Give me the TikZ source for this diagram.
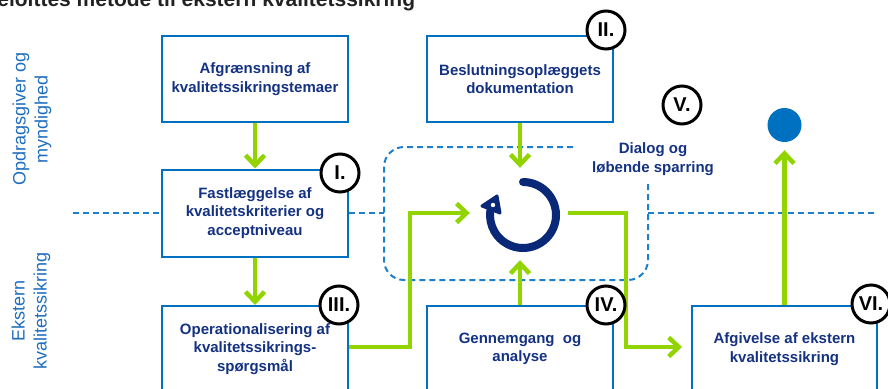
\documentclass[tikz,border=0pt]{standalone}
\usepackage{fontspec}
\setmainfont{Liberation Sans}
\usetikzlibrary{arrows.meta,calc}
\definecolor{boxblue}{RGB}{0,112,192}
\definecolor{navy}{RGB}{20,50,130}
\definecolor{cycnavy}{RGB}{10,40,120}
\definecolor{lgreen}{RGB}{146,212,0}
\definecolor{dashblue}{RGB}{30,128,204}
\definecolor{sideblue}{RGB}{30,110,190}
\definecolor{titlegray}{RGB}{34,34,34}
\tikzset{
  procbox/.style={draw=boxblue, line width=2pt, fill=white, minimum width=186pt, minimum height=86pt,
    align=center, text=navy, font=\fontsize{15}{18.5}\selectfont\bfseries, inner sep=0pt},
  numcirc/.style={circle, draw=black, line width=3pt, fill=white, minimum size=38pt, inner sep=0pt,
    font=\fontsize{20}{20}\selectfont\bfseries},
  garrow/.style={draw=lgreen, line width=4.5pt, -{Straight Barb[length=10pt,width=19pt]}},
  dashl/.style={draw=dashblue, line width=2pt, dash pattern=on 6pt off 4pt},
  sidelabel/.style={rotate=90, align=center, text=sideblue, font=\fontsize{18}{22}\selectfont}
}
\begin{document}
\begin{tikzpicture}[x=1pt,y=-1pt]
\useasboundingbox (0,0) rectangle (888,388);
\clip (0,0) rectangle (888,388);

% title (cut off at the top edge, as in the reference)
\node[anchor=base west, font=\fontsize{21}{21}\selectfont\bfseries, text=titlegray, inner sep=0pt] (title) at (-18,6) {Deloittes metode til ekstern kvalitetssikring};

% side labels
\node[sidelabel] (top) at (32,119) {Opdragsgiver og\\myndighed};
\node[sidelabel] (bot) at (31,311) {Ekstern\\kvalitetssikring};

% coordinates
\coordinate (dl) at (73,213);
\coordinate (rl) at (877,213);
\coordinate (rectl) at (384,213);
\coordinate (rectr) at (648,213);
\coordinate (j1) at (410,213);
\coordinate (j2) at (626,347);

% dashed dialog region
\draw[dashl, rounded corners=20pt] (573,147) -- (384,147) -- (384,280) -- (648,280) -- (648,183);

% boxes
\node[procbox] (afg) at (255,79) {Afgrænsning af\\kvalitetssikringstemaer};
\node[procbox, minimum height=87pt] (fast) at (255,213) {Fastlæggelse af\\kvalitetskriterier og\\acceptniveau};
\node[procbox] (besl) at (520,79) {Beslutningsoplæggets\\dokumentation};
\node[procbox] (oper) at (255,349) {Operationalisering af\\kvalitetssikrings-\\spørgsmål};
\node[procbox] (genn) at (520,349) {Gennemgang\ \ og\\analyse};
\node[procbox, minimum width=185pt] (afgiv) at (784.5,349) {Afgivelse af ekstern\\kvalitetssikring};

% separator line
\draw[dashl] (dl) -- (fast.west);
\draw[dashl] (fast.east) -- (rectl);
\draw[dashl] (rectr) -- (rl);

% cycle anchor and dot
\node[circle, minimum size=74pt, inner sep=0pt] (cyc) at (523,215) {};
\node[circle, fill=boxblue, minimum size=34pt, inner sep=0pt] (dot) at (784.5,125) {};

% dialog text
\node[align=center, text=navy, font=\fontsize{15}{18.5}\selectfont\bfseries] (dial) at (653,159) {Dialog og\\løbende sparring};

% green arrows
\draw[garrow] (afg.south) -- (fast.north);
\draw[garrow] (fast.south) -- (oper.north);
\draw[garrow, shorten >=10pt] (besl.south) -- (besl.south |- cyc.north);
\draw[garrow, shorten >=16pt] ([yshift=2pt]oper.east) -| (j1) -- (cyc.west |- j1);
\draw[garrow, shorten >=8pt] (genn.north) -- (genn.north |- cyc.south);
\draw[garrow, shorten >=9pt] ($(cyc.east |- j1)+(8,0)$) -| (j2) -- ([yshift=2pt]afgiv.west);
\draw[garrow, shorten >=8pt] (afgiv.north) -- (dot.south);

% cycle arrow
\draw[cycnavy, line width=8pt, line cap=round] ($(cyc.center)+(270:33)$) arc[start angle=270, end angle=548, radius=33];
\draw[cycnavy, fill=cycnavy, line width=3pt, line join=round] (482,206) -- (497,196) -- (500,213) -- cycle;
\fill[white] (493,205) circle[radius=2.2];

% numbered circles
\node[numcirc] (n1) at (340,173) {I.};
\node[numcirc] (n2) at (606,30) {II.};
\node[numcirc] (n3) at (339,305) {III.};
\node[numcirc] (n4) at (606,305) {IV.};
\node[numcirc] (n5) at (682,105) {V.};
\node[numcirc] (n6) at (871,304) {VI.};
\end{tikzpicture}
\end{document}
